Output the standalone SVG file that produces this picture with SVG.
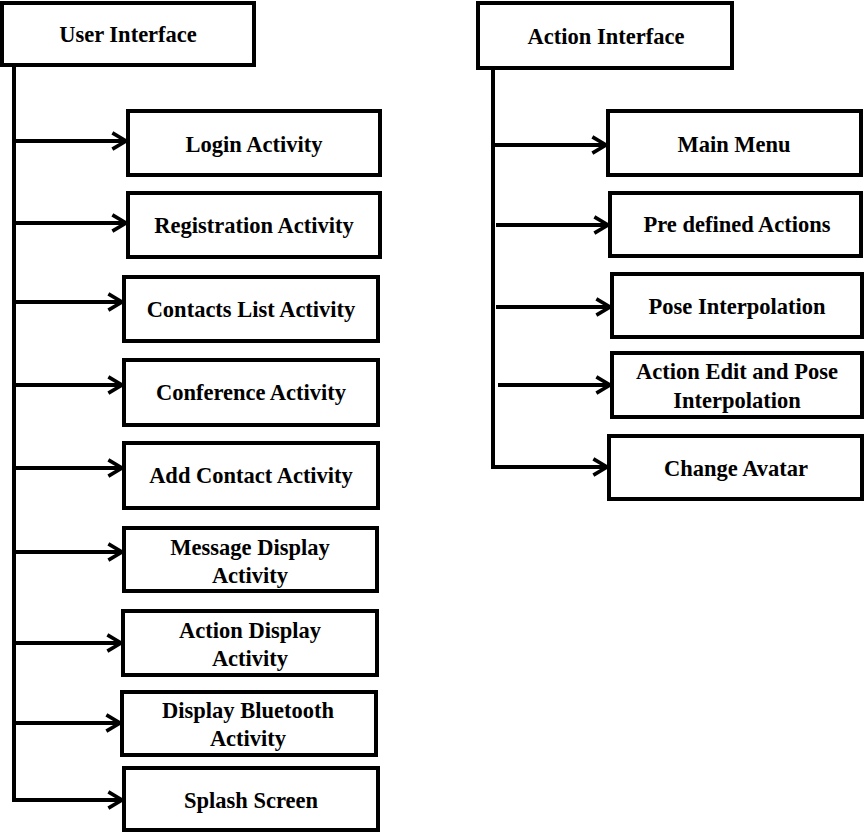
<svg xmlns="http://www.w3.org/2000/svg" width="866" height="833" viewBox="0 0 866 833">
<style>
.box{fill:#fff;stroke:#000;stroke-width:4}
.lbl{font-family:"Liberation Serif","Times New Roman",serif;font-weight:bold;font-size:22.5px;fill:#000;text-anchor:middle}
.con{fill:none;stroke:#000;stroke-width:4}
.arr{fill:none;stroke:#000;stroke-width:4;marker-end:url(#chev)}
</style>
<defs>
<marker id="chev" markerUnits="userSpaceOnUse" markerWidth="20" markerHeight="24" viewBox="-18 -12 22 24" refX="0" refY="0" orient="auto" overflow="visible">
<path d="M-15,-9 L0,0 L-15,9" fill="none" stroke="#000" stroke-width="4"/>
</marker>
</defs>
<rect width="866" height="833" fill="#fff"/>
<g id="connectors">
<path class="con" d="M14,65 V800"/>
<path class="arr" d="M14,141 H126"/>
<path class="arr" d="M14,223 H126"/>
<path class="arr" d="M14,302 H122"/>
<path class="arr" d="M14,385 H122"/>
<path class="arr" d="M14,468 H122"/>
<path class="arr" d="M14,552 H122"/>
<path class="arr" d="M14,643 H121"/>
<path class="arr" d="M14,723 H120"/>
<path class="arr" d="M12,800 H122"/>
<path class="con" d="M493,68 V467"/>
<path class="arr" d="M493,145 H606"/>
<path class="arr" d="M496,225 H608"/>
<path class="arr" d="M496,307 H610"/>
<path class="arr" d="M498,385 H610"/>
<path class="arr" d="M491,467 H607"/>
</g>
<g id="user-interface"><rect class="box" x="2" y="3" width="252" height="62"/><text class="lbl" x="128" y="42">User Interface</text></g>
<g id="login-activity"><rect class="box" x="128" y="111" width="252" height="64"/><text class="lbl" x="254" y="152">Login Activity</text></g>
<g id="registration-activity"><rect class="box" x="128" y="193" width="252" height="64"/><text class="lbl" x="254" y="233">Registration Activity</text></g>
<g id="contacts-list-activity"><rect class="box" x="124" y="277" width="254" height="64"/><text class="lbl" x="251" y="317">Contacts List Activity</text></g>
<g id="conference-activity"><rect class="box" x="124" y="360" width="254" height="65"/><text class="lbl" x="251" y="400">Conference Activity</text></g>
<g id="add-contact-activity"><rect class="box" x="124" y="443" width="254" height="65"/><text class="lbl" x="251" y="483">Add Contact Activity</text></g>
<g id="message-display-activity"><rect class="box" x="124" y="528" width="253" height="63"/><text class="lbl" x="250" y="555">Message Display</text><text class="lbl" x="250" y="583">Activity</text></g>
<g id="action-display-activity"><rect class="box" x="123" y="611" width="254" height="64"/><text class="lbl" x="250" y="638">Action Display</text><text class="lbl" x="250" y="666">Activity</text></g>
<g id="display-bluetooth-activity"><rect class="box" x="122" y="692" width="254" height="63"/><text class="lbl" x="248" y="718">Display Bluetooth</text><text class="lbl" x="248" y="746">Activity</text></g>
<g id="splash-screen"><rect class="box" x="124" y="768" width="254" height="62"/><text class="lbl" x="251" y="808">Splash Screen</text></g>
<g id="action-interface"><rect class="box" x="478" y="3" width="254" height="65"/><text class="lbl" x="606" y="44">Action Interface</text></g>
<g id="main-menu"><rect class="box" x="608" y="111" width="253" height="64"/><text class="lbl" x="734" y="152">Main Menu</text></g>
<g id="pre-defined-actions"><rect class="box" x="610" y="193" width="251" height="63"/><text class="lbl" x="737" y="232">Pre defined Actions</text></g>
<g id="pose-interpolation"><rect class="box" x="612" y="274" width="250" height="63"/><text class="lbl" x="737" y="314">Pose Interpolation</text></g>
<g id="action-edit-pose-interpolation"><rect class="box" x="612" y="353" width="250" height="64"/><text class="lbl" x="737" y="379">Action Edit and Pose</text><text class="lbl" x="737" y="408">Interpolation</text></g>
<g id="change-avatar"><rect class="box" x="609" y="436" width="253" height="63"/><text class="lbl" x="736" y="476">Change Avatar</text></g>
</svg>
